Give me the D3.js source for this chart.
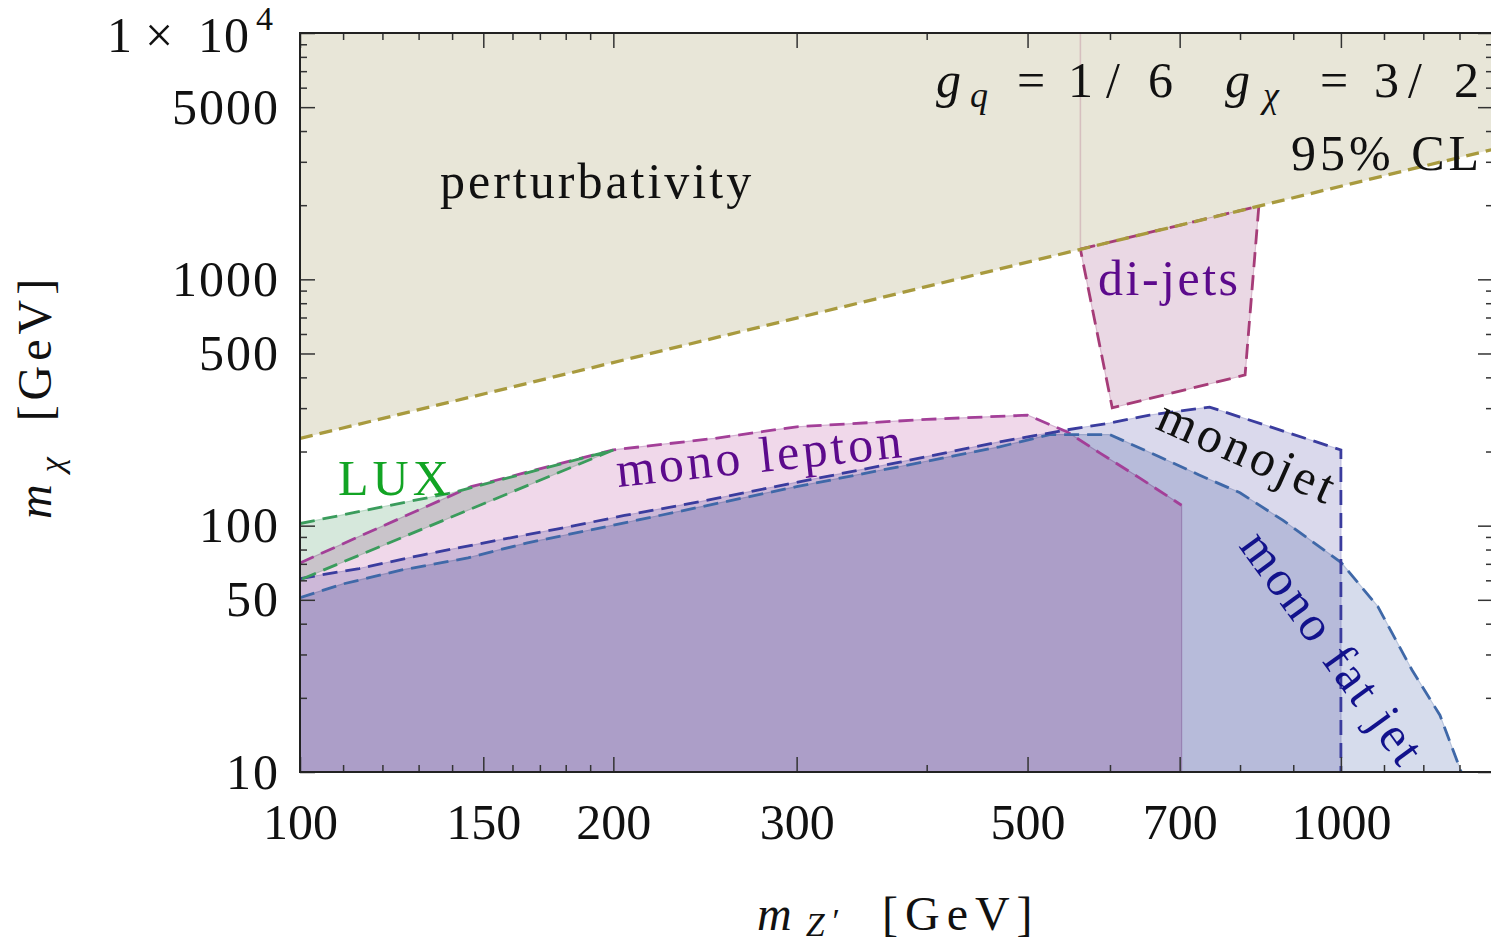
<!DOCTYPE html>
<html>
<head>
<meta charset="utf-8">
<script src="https://cdn.jsdelivr.net/npm/d3@7"></script>
<style>
body { margin: 0; background: #fff; }
svg text { font-family: "Liberation Serif", "DejaVu Serif", serif; }
</style>
</head>
<body>
<svg id="chart" width="1491" height="946"></svg>
<script>
const xMajor = [100, 150, 200, 300, 500, 700, 1000];
const xMinor = [110, 120, 130, 140, 160, 170, 180, 190, 400, 600, 800, 900, 1100, 1200, 1300];
const yMajor = [10, 50, 100, 500, 1000, 5000, 10000];
const yMinor = [20, 30, 40, 60, 70, 80, 90, 200, 300, 400, 600, 700, 800, 900, 2000, 3000, 4000, 6000, 7000, 8000, 9000];

// region boundaries, [m_Z', m_chi] in GeV
const perturbativity = [[100, 226], [1400, 3370]];
const dijetEdge = [[562, 10000], [562, 1325]];
const dijets = [[562, 1325], [834, 1985], [809, 409], [603, 301], [562, 1325]];
const monoLepton = [[100, 70.6], [146, 144], [200, 203], [250, 226], [300, 252], [400, 270], [500, 281],
    [546, 240], [587, 197], [641, 156], [703, 121]];
const lux = [[100, 102], [140, 136], [200, 203], [100, 60.3]];
const monojet = [[100, 61], [114, 67], [131, 76], [152, 86], [177, 97], [205, 110], [242, 125], [300, 150],
    [377, 181], [470, 219], [546, 245], [600, 261], [655, 281], [748, 303], [1000, 203], [1000, 10]];
const monoFatJet = [[100, 51], [110, 58], [125, 66], [145, 74], [165, 85], [190, 96], [240, 118], [300, 144],
    [375, 173], [470, 209], [525, 234], [600, 234], [670, 190], [730, 161], [800, 136], [880, 105],
    [1000, 71], [1085, 47], [1170, 26], [1245, 17], [1305, 10]];

const plotLeft = 300, plotRight = 1493, plotTop = 33, plotBottom = 772;

const svg = d3.select('#chart');
const x = d3.scaleLog().domain([100, 1400]).range([plotLeft, plotRight]);
const y = d3.scaleLog().domain([10, 10000]).range([plotBottom, plotTop]);
const line = d3.line().x(d => x(d[0])).y(d => y(d[1]));

svg.append('rect').attr('width', 1491).attr('height', 946).attr('fill', '#fff');

svg.append('clipPath').attr('id', 'plotClip')
    .append('rect')
    .attr('x', plotLeft).attr('y', plotTop)
    .attr('width', plotRight - plotLeft).attr('height', plotBottom - plotTop);

const plot = svg.append('g').attr('clip-path', 'url(#plotClip)').style('isolation', 'isolate');

plot.append('rect')
    .attr('x', plotLeft).attr('y', plotTop)
    .attr('width', plotRight - plotLeft).attr('height', plotBottom - plotTop)
    .attr('fill', '#fff');

// perturbativity band (above the line)
plot.append('path')
    .attr('d', line(perturbativity.concat([[1400, 10000], [100, 10000]])) + 'Z')
    .attr('fill', '#e8e6d8');

function region(fillPts, edgePts, fill, stroke, edgeColor) {
    plot.append('path')
        .attr('d', line(fillPts) + 'Z')
        .attr('fill', fill)
        .attr('stroke', edgeColor)
        .attr('stroke-width', 1.2)
        .style('mix-blend-mode', 'multiply');
    return { edgePts, stroke };
}

const edges = [];
edges.push(region(monoLepton.concat([[703, 10], [100, 10]]), monoLepton, '#f0d8ea', '#a33f98', '#d4b2d2'));
edges.push(region(monoFatJet.concat([[100, 10]]), monoFatJet, '#d6dcec', '#3f68a8', '#b8c4dc'));
edges.push(region(monojet.concat([[100, 10]]), monojet, '#dad9ec', '#3a3c9e', '#c0c0e0'));
edges.push(region(lux, lux, '#d6e8dc', '#3a9c5c', '#b8d8c4'));
edges.push(region(dijets, dijets, '#ead8e4', '#a63c78', '#d8b8cc'));

plot.append('path')
    .attr('d', line(dijetEdge))
    .attr('fill', 'none')
    .attr('stroke', '#d6bfbf')
    .attr('stroke-width', 1.6);

edges.forEach(e => {
    plot.append('path')
        .attr('d', line(e.edgePts))
        .attr('fill', 'none')
        .attr('stroke', e.stroke)
        .attr('stroke-width', 2.8)
        .attr('stroke-dasharray', '15,8');
});

plot.append('path')
    .attr('d', line(perturbativity))
    .attr('fill', 'none')
    .attr('stroke', '#a89a3e')
    .attr('stroke-width', 3.3)
    .attr('stroke-dasharray', '13,7');

// axes with inward ticks, mirrored on top / right
function styleAxis(g) {
    g.select('.domain').remove();
    g.selectAll('line').attr('stroke', '#333').attr('stroke-width', 1.5);
    g.selectAll('text').attr('font-family', '"Liberation Serif", serif').attr('font-size', 50).attr('fill', '#111');
}

const axes = svg.append('g');
axes.append('g').attr('transform', `translate(0,${plotBottom})`)
    .call(d3.axisBottom(x).tickValues(xMinor).tickSize(-7).tickFormat('')).call(styleAxis);
axes.append('g').attr('transform', `translate(0,${plotBottom})`)
    .call(d3.axisBottom(x).tickValues(xMajor).tickSize(-15).tickPadding(31).tickFormat(d3.format('d'))).call(styleAxis);
axes.append('g').attr('transform', `translate(0,${plotTop})`)
    .call(d3.axisTop(x).tickValues(xMinor).tickSize(-7).tickFormat('')).call(styleAxis);
axes.append('g').attr('transform', `translate(0,${plotTop})`)
    .call(d3.axisTop(x).tickValues(xMajor).tickSize(-15).tickFormat('')).call(styleAxis);

axes.append('g').attr('transform', `translate(${plotLeft},0)`)
    .call(d3.axisLeft(y).tickValues(yMinor).tickSize(-7).tickFormat('')).call(styleAxis);
axes.append('g').attr('transform', `translate(${plotLeft},0)`)
    .call(d3.axisLeft(y).tickValues(yMajor).tickSize(-15).tickPadding(20)
        .tickFormat(d => d === 10000 ? '' : d3.format('d')(d))).call(styleAxis)
    .selectAll('text').attr('letter-spacing', 2);
axes.append('g').attr('transform', `translate(${plotRight},0)`)
    .call(d3.axisRight(y).tickValues(yMinor).tickSize(-7).tickFormat('')).call(styleAxis);
axes.append('g').attr('transform', `translate(${plotRight},0)`)
    .call(d3.axisRight(y).tickValues(yMajor).tickSize(-15).tickFormat('')).call(styleAxis);

axes.append('rect')
    .attr('x', plotLeft).attr('y', plotTop)
    .attr('width', plotRight - plotLeft).attr('height', plotBottom - plotTop)
    .attr('fill', 'none').attr('stroke', '#222').attr('stroke-width', 2);

// 1 x 10^4 label
const topLabel = svg.append('text')
    .attr('y', y(10000) + 19)
    .attr('font-size', 50).attr('fill', '#111');
topLabel.append('tspan').attr('x', 107).text('1');
topLabel.append('tspan').attr('x', 145).text('\u00d7');
topLabel.append('tspan').attr('x', 198).attr('letter-spacing', 1).text('10');
topLabel.append('tspan').attr('x', 256).attr('font-size', 34).attr('dy', -22).text('4');

// axis titles
const xTitle = svg.append('text').attr('x', 757).attr('y', 930).attr('font-size', 48).attr('fill', '#111');
xTitle.append('tspan').attr('font-style', 'italic').text('m');
xTitle.append('tspan').attr('font-style', 'italic').attr('font-size', 34).attr('dx', 14).attr('dy', 6).text('Z');
xTitle.append('tspan').attr('font-size', 34).attr('dx', 8).attr('dy', -4).text('\u2032');
xTitle.append('tspan').attr('x', 882).attr('dy', -2).attr('letter-spacing', 7).text('[GeV]');

const yTitle = svg.append('text')
    .attr('transform', 'translate(51,519) rotate(-90)')
    .attr('font-size', 48).attr('fill', '#111');
yTitle.append('tspan').attr('font-style', 'italic').text('m');
yTitle.append('tspan').attr('font-style', 'italic').attr('font-size', 34).attr('dx', 12).attr('dy', 12).text('\u03c7');
yTitle.append('tspan').attr('dx', 36).attr('dy', -12).attr('letter-spacing', 5).text('[GeV]');

// in-plot labels
function label(text, px, py, opts) {
    return svg.append('text')
        .attr('transform', `translate(${px},${py}) rotate(${opts.angle || 0})`)
        .attr('font-size', opts.size || 50)
        .attr('letter-spacing', opts.spacing || 0)
        .attr('fill', opts.color || '#111')
        .text(text);
}
label('perturbativity', 440, 198, { spacing: 3 });
label('95% CL', 1291, 170, { spacing: 4 });
label('di-jets', 1098, 295, { spacing: 2.5, color: '#5c0a8c' });
label('LUX', 338, 495, { spacing: 4, color: '#12a424' });
label('mono lepton', 618, 487, { spacing: 3.5, color: '#5c0a8c', angle: -6 });
label('monojet', 1154, 428, { spacing: 4, color: '#111', angle: 24 });
label('mono fat jet', 1238, 546, { spacing: 3, color: '#12128c', angle: 54 });

// coupling label
const coup = svg.append('text').attr('y', 97).attr('font-size', 50).attr('fill', '#111');
coup.append('tspan').attr('x', 936).attr('font-style', 'italic').text('g');
coup.append('tspan').attr('x', 970).attr('dy', 10).attr('font-size', 36).attr('font-style', 'italic').text('q');
coup.append('tspan').attr('x', 1017).attr('dy', -10).text('=');
coup.append('tspan').attr('x', 1068).text('1');
coup.append('tspan').attr('x', 1106).text('/');
coup.append('tspan').attr('x', 1148).text('6');
coup.append('tspan').attr('x', 1225).attr('font-style', 'italic').text('g');
coup.append('tspan').attr('x', 1263).attr('dy', 10).attr('font-size', 36).attr('font-style', 'italic').text('\u03c7');
coup.append('tspan').attr('x', 1320).attr('dy', -10).text('=');
coup.append('tspan').attr('x', 1374).text('3');
coup.append('tspan').attr('x', 1408).text('/');
coup.append('tspan').attr('x', 1454).text('2');
</script>
</body>
</html>
